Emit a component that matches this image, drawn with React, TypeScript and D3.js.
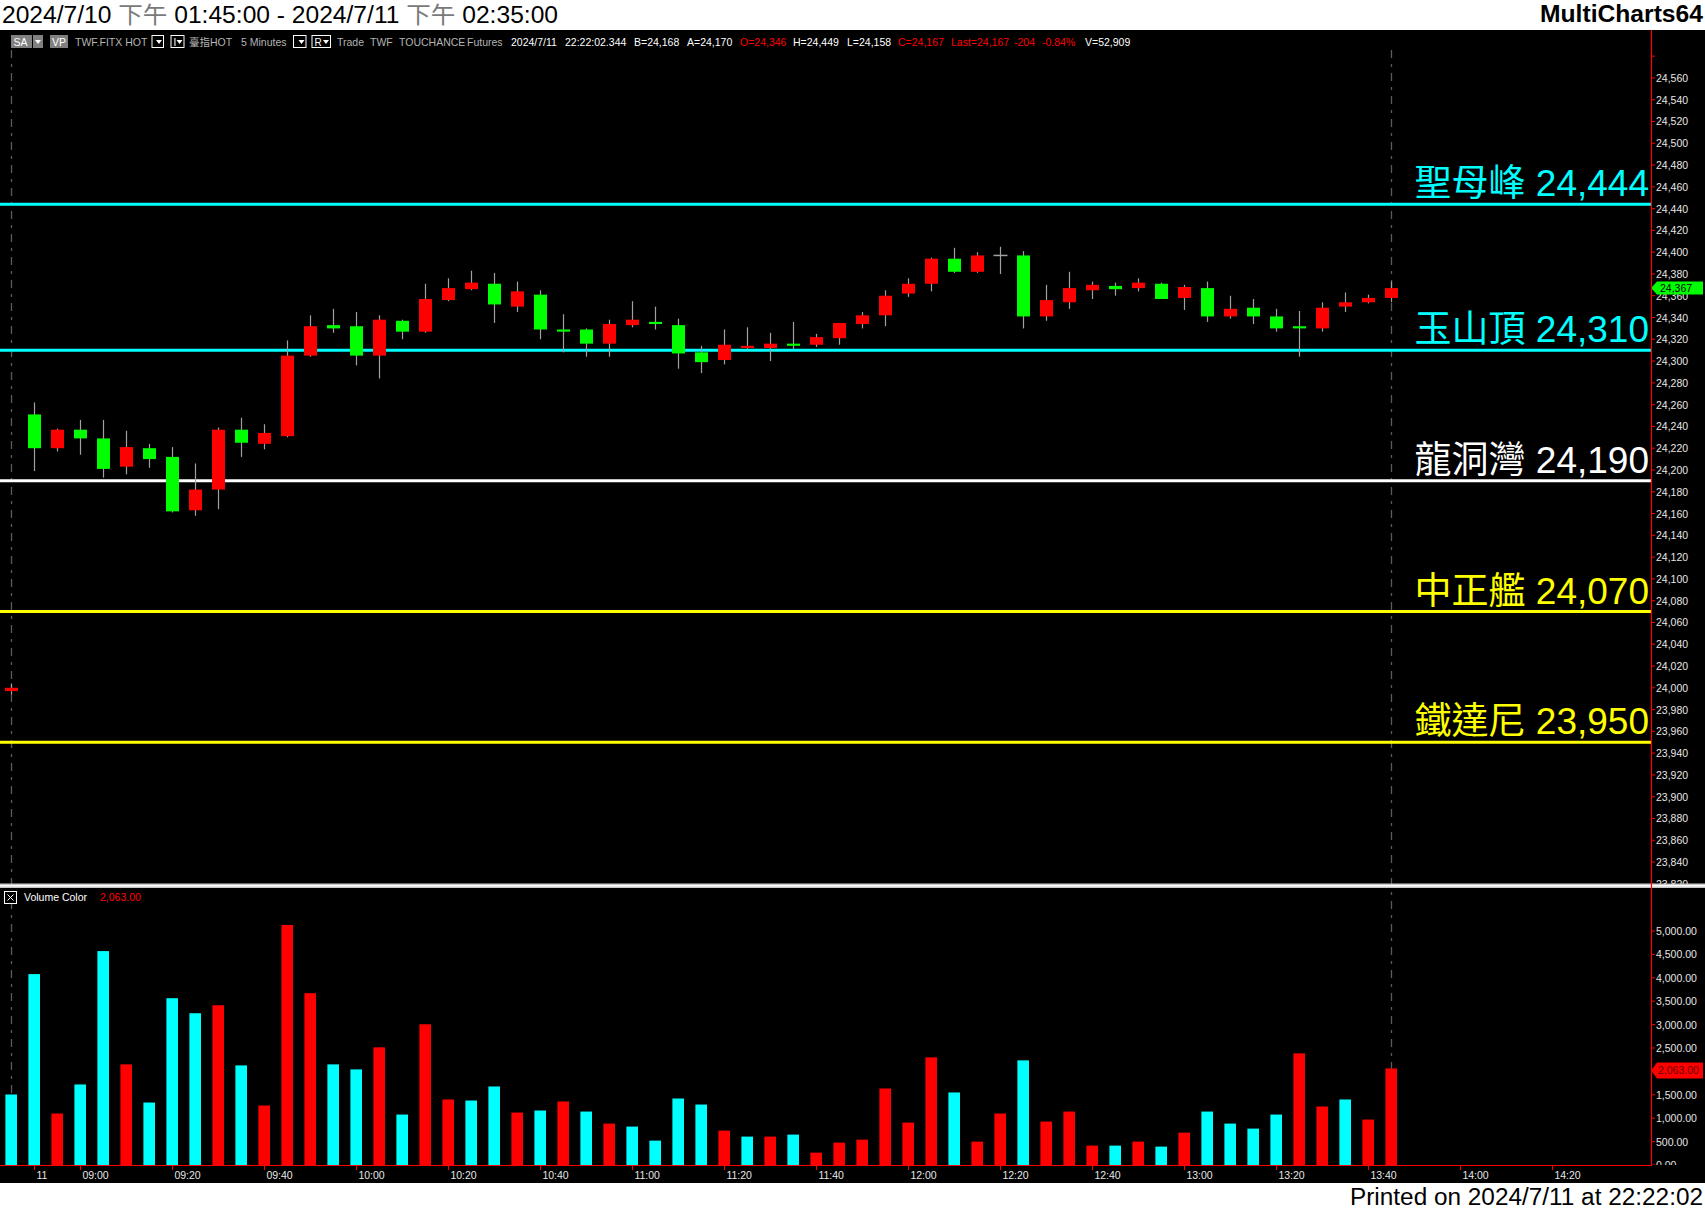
import React from 'react';
import * as d3 from 'd3';

// 5-minute bars: index 0 is the previous session's last bar, 1..60 = 08:50 .. 13:45
const opens = [23997, 24251, 24220, 24237, 24229, 24203, 24220, 24212, 24163, 24182,
  24237, 24224, 24231, 24305, 24333, 24332, 24305, 24337, 24327, 24356,
  24366, 24371, 24350, 24361, 24329, 24329, 24316, 24333, 24336, 24333,
  24308, 24301, 24312, 24312, 24316, 24315, 24321, 24334, 24342, 24362,
  24371, 24394, 24382, 24397, 24397, 24341, 24354, 24365, 24369, 24367,
  24371, 24358, 24367, 24341, 24349, 24341, 24332, 24330, 24350, 24354, 24358];
const highs = [24004, 24262, 24238, 24246, 24246, 24236, 24224, 24221, 24206, 24239,
  24248, 24242, 24319, 24342, 24348, 24345, 24342, 24338, 24371, 24376,
  24383, 24381, 24373, 24365, 24343, 24330, 24338, 24355, 24350, 24339,
  24314, 24329, 24331, 24326, 24336, 24325, 24335, 24345, 24365, 24376,
  24395, 24404, 24400, 24405, 24401, 24370, 24382, 24373, 24372, 24376,
  24372, 24370, 24373, 24360, 24357, 24348, 24346, 24354, 24363, 24361, 24373];
const lows = [23994, 24199, 24217, 24214, 24193, 24196, 24202, 24161, 24158, 24164,
  24212, 24219, 24230, 24304, 24326, 24296, 24284, 24320, 24326, 24355,
  24365, 24335, 24345, 24320, 24308, 24304, 24304, 24331, 24329, 24293,
  24289, 24297, 24311, 24300, 24311, 24313, 24315, 24330, 24332, 24359,
  24364, 24381, 24381, 24380, 24330, 24337, 24348, 24357, 24360, 24364,
  24357, 24347, 24336, 24339, 24334, 24327, 24304, 24327, 24345, 24353, 24354];
const closes = [24000, 24220, 24237, 24229, 24201, 24221, 24210, 24162, 24182, 24237,
  24225, 24234, 24305, 24332, 24330, 24305, 24338, 24327, 24357, 24367,
  24372, 24352, 24364, 24329, 24327, 24316, 24334, 24338, 24334, 24307,
  24299, 24315, 24314, 24316, 24314, 24322, 24335, 24342, 24360, 24371,
  24394, 24382, 24397, 24397, 24341, 24356, 24367, 24370, 24366, 24372,
  24357, 24368, 24341, 24348, 24341, 24330, 24330, 24349, 24354, 24358, 24367];
const volumes = [1507, 4079, 1100, 1721, 4571, 2150, 1335, 3564, 3243, 3414,
  2128, 1271, 5129, 3671, 2150, 2043, 2514, 1078, 3007, 1400,
  1378, 1678, 1121, 1164, 1357, 1142, 885, 821, 521, 1421,
  1292, 735, 607, 607, 650, 264, 478, 542, 1635, 907,
  2300, 1550, 500, 1100, 2236, 928, 1142, 414, 414, 500,
  393, 692, 1142, 885, 778, 1078, 2385, 1250, 1400, 971, 2063];
// 1 = red volume bar, 0 = cyan
const volumeUp = [0, 0, 1, 0, 0, 1, 0, 0, 0, 1,
  0, 1, 1, 1, 0, 0, 1, 0, 1, 1,
  0, 0, 1, 0, 1, 0, 1, 0, 0, 0,
  0, 1, 0, 1, 0, 1, 1, 1, 1, 1,
  1, 0, 1, 1, 0, 1, 1, 1, 0, 1,
  0, 1, 0, 0, 0, 0, 1, 1, 0, 1, 1];

const tickBars = [1, 3, 7, 11, 15, 19, 23, 27, 31, 35, 39, 43, 47, 51, 55, 59, 63, 67];
const tickLabels = ['11', '09:00', '09:20', '09:40', '10:00', '10:20', '10:40', '11:00', '11:20',
  '11:40', '12:00', '12:20', '12:40', '13:00', '13:20', '13:40', '14:00', '14:20'];

const levelNames = ['聖母峰', '玉山頂', '龍洞灣', '中正艦', '鐵達尼'];
const levelValues = [24444, 24310, 24190, 24070, 23950];
const levelColors = ['#00FFFF', '#00FFFF', '#FFFFFF', '#FFFF00', '#FFFF00'];

const lastPrice = 24367;
const lastVolume = 2063;

const W = 1705;
const H = 1211;
const AXIS_X = 1651;
const FONT = '"Liberation Sans", Arial, "Noto Sans CJK TC", sans-serif';
const UP = '#FF0000';
const DOWN = '#00FF00';

const x = d3.scaleLinear().domain([0, 60]).range([11.2, 1391.2]);
const yPrice = d3.scaleLinear().domain([23818, 24604]).range([886, 30]);
const yVol = d3.scaleLinear().domain([0, 5000]).range([1165, 931]);

const priceTicks = d3.range(23820, 24600, 20);
const volTicks = d3.range(0, 5001, 500);
const fmtPrice = d3.format(',');
const fmtVol = d3.format(',.2f');

// toolbar texts across the top of the chart
const toolbar = [
  { t: 'TWF.FITX HOT', x: 75, c: '#b4b4b4' },
  { t: '臺指HOT', x: 189, c: '#b4b4b4' },
  { t: '5 Minutes', x: 241, c: '#b4b4b4' },
  { t: 'Trade', x: 337, c: '#b4b4b4' },
  { t: 'TWF', x: 370, c: '#b4b4b4' },
  { t: 'TOUCHANCE', x: 399, c: '#b4b4b4' },
  { t: 'Futures', x: 467, c: '#b4b4b4' },
  { t: '2024/7/11', x: 511, c: '#ffffff' },
  { t: '22:22:02.344', x: 565, c: '#ffffff' },
  { t: 'B=24,168', x: 634, c: '#ffffff' },
  { t: 'A=24,170', x: 687, c: '#ffffff' },
  { t: 'O=24,346', x: 740, c: '#ff0000' },
  { t: 'H=24,449', x: 793, c: '#ffffff' },
  { t: 'L=24,158', x: 847, c: '#ffffff' },
  { t: 'C=24,167', x: 898, c: '#ff0000' },
  { t: 'Last=24,167', x: 951, c: '#ff0000' },
  { t: '-204', x: 1014, c: '#ff0000' },
  { t: '-0.84%', x: 1042, c: '#ff0000' },
  { t: 'V=52,909', x: 1085, c: '#ffffff' },
];

const DropBox: React.FC<{ x0: number; w: number; label?: string }> = ({ x0, w, label }) => (
  <g>
    <rect x={x0 + 0.5} y={35.5} width={w} height={12} fill="#000" stroke="#fff" strokeWidth={1} />
    {label && <text x={x0 + 3} y={45.5} fill="#fff" fontSize={10} fontFamily={FONT}>{label}</text>}
    <path d={`M${x0 + w - 7},40 h6 l-3,4 z`} fill="#fff" />
  </g>
);

export default function App() {
  const bars = d3.range(opens.length);
  const cw = 13;
  return (
    <svg width={W} height={H} style={{ position: 'absolute', left: 0, top: 0, display: 'block' }}>
      <defs>
        <clipPath id="pricePanel"><rect x={0} y={30} width={W} height={854} /></clipPath>
        <clipPath id="volPanel"><rect x={0} y={889} width={W} height={276} /></clipPath>
      </defs>
      <rect width={W} height={H} fill="#fff" />
      <rect x={0} y={30} width={W} height={1153} fill="#000" />

      {/* header */}
      <text x={2} y={23} fontSize={23} fontFamily={FONT} fill="#000" textLength={556} lengthAdjust="spacingAndGlyphs">
        <tspan>2024/7/10 </tspan><tspan fill="#7a7a7a">下午</tspan><tspan> 01:45:00 - 2024/7/11 </tspan>
        <tspan fill="#7a7a7a">下午</tspan><tspan> 02:35:00</tspan>
      </text>
      <text x={1703} y={22} textAnchor="end" fontSize={23} fontWeight="bold" fontFamily={FONT} fill="#000"
        textLength={163} lengthAdjust="spacingAndGlyphs">MultiCharts64</text>

      {/* session separators */}
      {[0, 60].map(i => (
        <line key={i} x1={Math.round(x(i)) + 0.5} x2={Math.round(x(i)) + 0.5} y1={50} y2={1165}
          stroke="#5a5a5a" strokeWidth={1.3} strokeDasharray="8,6,3,6" />
      ))}

      {/* toolbar */}
      <rect x={11} y={35} width={21} height={13} fill="#808080" />
      <text x={13.5} y={45.5} fill="#fff" fontSize={10.5} fontFamily={FONT}>SA</text>
      <rect x={33} y={35} width={10} height={13} fill="#808080" />
      <path d="M35,40 h6 l-3,4 z" fill="#fff" />
      <rect x={50} y={35} width={18} height={13} fill="#808080" />
      <text x={52} y={45.5} fill="#fff" fontSize={10.5} fontFamily={FONT}>VP</text>
      <DropBox x0={151.5} w={11.5} />
      <DropBox x0={170.5} w={13} label="I" />
      <DropBox x0={293} w={12.5} />
      <DropBox x0={311.5} w={18.5} label="R" />
      {toolbar.map(d => (
        <text key={d.t + d.x} x={d.x} y={45.5} fill={d.c} fontSize={10.5} fontFamily={FONT}>{d.t}</text>
      ))}

      {/* price panel */}
      <g clipPath="url(#pricePanel)">
        {levelValues.map((v, k) => (
          <g key={v}>
            <line x1={0} x2={AXIS_X} y1={yPrice(v)} y2={yPrice(v)} stroke={levelColors[k]} strokeWidth={3} />
            <text x={1649} y={yPrice(v) - 8} textAnchor="end" fill={levelColors[k]} fontSize={37} fontFamily={FONT}>
              {levelNames[k]} {fmtPrice(v)}
            </text>
          </g>
        ))}
        {bars.map(i => {
          const o = opens[i], c = closes[i];
          const cx = Math.round(x(i)) + 0.5;
          const top = yPrice(Math.max(o, c));
          const hgt = Math.abs(yPrice(o) - yPrice(c));
          const col = c > o ? UP : c < o ? DOWN : '#a0a0a0';
          return (
            <g key={i}>
              <line x1={cx} x2={cx} y1={yPrice(highs[i])} y2={yPrice(lows[i])} stroke="#a0a0a0" strokeWidth={1.2} />
              {c === o
                ? <line x1={cx - 7} x2={cx + 7} y1={yPrice(o)} y2={yPrice(o)} stroke={col} strokeWidth={1.5} />
                : <rect x={cx - cw / 2} y={top} width={cw} height={Math.max(hgt, 2)} fill={col} />}
            </g>
          );
        })}
      </g>

      {/* price axis */}
      <g clipPath="url(#pricePanel)">
        {priceTicks.map(v => (
          <g key={v}>
            <line x1={AXIS_X} x2={AXIS_X + 4} y1={yPrice(v)} y2={yPrice(v)} stroke="#ff0000" />
            {v <= 24560 && (
              <text x={1656} y={yPrice(v) + 4} fill="#e6e6e6" fontSize={10.5} fontFamily={FONT}>{fmtPrice(v)}</text>
            )}
          </g>
        ))}
      </g>
      <path d={`M${AXIS_X},${yPrice(lastPrice)} l6,-6.5 h46 v13 h-46 z`} fill="#00FF00" />
      <text x={1660} y={yPrice(lastPrice) + 4} fill="#000" fontSize={10.5} fontFamily={FONT}>{fmtPrice(lastPrice)}</text>

      {/* panel separator */}
      <rect x={0} y={883.5} width={W} height={4.5} fill="#c8c8c8" />
      <line x1={0} x2={W} y1={885.7} y2={885.7} stroke="#ffffff" strokeWidth={1.5} />

      {/* volume panel */}
      <g clipPath="url(#volPanel)">
        {bars.map(i => (
          <rect key={i} x={x(i) - 5.8} width={11.6} y={yVol(volumes[i])} height={yVol(0) - yVol(volumes[i])}
            fill={volumeUp[i] ? '#FF0000' : '#00FFFF'} />
        ))}
        {volTicks.map(v => (
          <g key={v}>
            <line x1={AXIS_X} x2={AXIS_X + 4} y1={yVol(v)} y2={yVol(v)} stroke="#ff0000" />
            <text x={1656} y={yVol(v) + 4} fill="#e6e6e6" fontSize={10.5} fontFamily={FONT}>{fmtVol(v)}</text>
          </g>
        ))}
      </g>
      <path d={`M${AXIS_X},${yVol(lastVolume) + 2} l6,-8 h46 v16 h-46 z`} fill="#FF0000" />
      <text x={1658} y={yVol(lastVolume) + 6} fill="#6a0000" fontSize={10.5} fontFamily={FONT}>{fmtVol(lastVolume)}</text>

      {/* volume legend */}
      <rect x={4.5} y={891.5} width={12} height={12} fill="#000" stroke="#fff" />
      <path d="M7.5,894.5 L13.5,900.5 M13.5,894.5 L7.5,900.5" stroke="#fff" />
      <text x={24} y={901} fill="#fff" fontSize={10.5} fontFamily={FONT}>Volume Color</text>
      <text x={100} y={901} fill="#ff0000" fontSize={10.5} fontFamily={FONT}>{fmtVol(lastVolume)}</text>

      {/* axes lines */}
      <line x1={AXIS_X + 0.5} x2={AXIS_X + 0.5} y1={30} y2={1166} stroke="#ff0000" strokeWidth={1.2} />
      <line x1={0} x2={AXIS_X} y1={1165.5} y2={1165.5} stroke="#ff0000" strokeWidth={1.2} />

      {/* time axis */}
      {tickBars.map((b, k) => (
        <g key={b}>
          <line x1={Math.round(x(b)) + 0.5} x2={Math.round(x(b)) + 0.5} y1={1165} y2={1170} stroke="#ff0000" />
          <text x={x(b) + 2.2} y={1179} fill="#e6e6e6" fontSize={10.5} fontFamily={FONT}>{tickLabels[k]}</text>
        </g>
      ))}

      <text x={1703} y={1205} textAnchor="end" fontSize={23} fontFamily={FONT} fill="#000"
        textLength={353} lengthAdjust="spacingAndGlyphs">Printed on 2024/7/11 at 22:22:02</text>
    </svg>
  );
}
